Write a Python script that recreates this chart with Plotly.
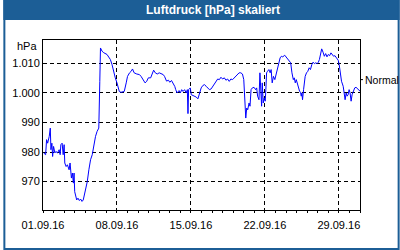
import pandas as pd
import plotly.graph_objects as go

# ---- data ----
start_date = "2016-09-01"
end_date = "2016-10-01"
# time offsets in days since 01.09.16
days = [0.06, 0.25, 0.34, 0.44, 0.59, 0.69, 0.75, 0.84, 0.91, 1.00, 1.125, 1.22, 1.375, 1.53, 1.625,
        1.69, 1.81, 1.91, 2.00, 2.06, 2.19, 2.31, 2.47, 2.56, 2.69, 2.78, 2.875, 2.94, 3.00, 3.09,
        3.19, 3.31, 3.44, 3.56, 3.69, 3.81, 3.94, 4.06, 4.19, 4.34, 4.50, 4.66, 4.81, 4.97, 5.12,
        5.28, 5.375, 5.44, 5.59, 5.75, 6.06, 6.375, 6.53, 6.69, 6.84, 7.00, 7.09, 7.22, 7.375,
        7.625, 7.69, 7.875, 8.0, 8.19, 8.34, 8.47, 8.625, 8.875, 9.125, 9.28, 9.44, 9.66, 9.81,
        9.97, 10.19, 10.34, 10.47, 10.625, 10.81, 11.0, 11.19, 11.375, 11.5, 11.69, 11.875, 12.0,
        12.16, 12.31, 12.47, 12.56, 12.69, 12.875, 13.0, 13.125, 13.25, 13.4, 13.56, 13.66, 13.72,
        13.78, 13.94, 14.03, 14.19, 14.34, 14.5, 14.66, 14.81, 14.97,
        15.125, 15.28, 15.44, 15.59, 15.75, 15.91, 16.06, 16.22, 16.375, 16.53, 16.69, 16.84, 17.0,
        17.16, 17.31, 17.47, 17.625, 17.78, 17.94, 18.09, 18.25, 18.41, 18.56, 18.72, 18.875, 19.0,
        19.09, 19.19, 19.28, 19.375, 19.5, 19.59, 19.69, 19.81, 19.97, 20.125, 20.22, 20.31, 20.44,
        20.53, 20.625, 20.69, 20.75, 20.84, 20.94, 21.03, 21.09, 21.16, 21.25, 21.375, 21.5, 21.59,
        21.69, 21.81, 21.94, 22.06, 22.19, 22.31, 22.44,
        22.56, 22.69, 22.875, 23.0, 23.16, 23.31, 23.44, 23.56, 23.69, 23.78, 23.875, 23.97, 24.06,
        24.19, 24.28, 24.375, 24.44, 24.5, 24.56, 24.66, 24.72, 24.81, 24.94, 25.06, 25.19, 25.31,
        25.44, 25.56, 25.69, 25.81, 25.94, 26.06, 26.16, 26.28, 26.375, 26.5, 26.625, 26.75, 26.875,
        27.0, 27.125, 27.25, 27.375, 27.5, 27.625, 27.78, 27.94, 28.03, 28.09, 28.19, 28.25, 28.41,
        28.5, 28.59, 28.69, 28.78, 28.875, 28.97, 29.06, 29.16, 29.25, 29.375, 29.5, 29.625, 29.75,
        29.875, 30.0]
pressure = [979.7, 979.1, 984.2, 983.0, 985.3, 988.1, 980.8, 983.0, 978.5, 981.9, 979.7, 980.2, 979.7,
            980.8, 979.1, 982.5, 983.0, 979.1, 982.5, 976.3, 975.1, 975.7, 974.0, 976.3, 971.2, 972.9,
            969.5, 972.9, 966.6, 965.0, 963.8, 964.4, 963.6, 964.1, 963.3, 963.8, 966.1, 968.3, 970.0,
            974.0, 977.4, 979.1, 983.0, 985.3, 987.0, 988.1, 1003.9, 1015.2, 1014.1, 1013.6, 1013.0,
            1011.3, 1009.6, 1006.8, 1005.1, 1003.4, 1001.7, 1000.5, 1000.2,
            1000.3, 1000.5, 1003.4, 1005.6, 1006.8, 1007.3, 1008.1, 1006.8, 1006.4, 1006.2, 1005.6,
            1004.5, 1003.4, 1003.9, 1005.1, 1005.1, 1006.8, 1007.7, 1006.8, 1006.4, 1006.8, 1006.4,
            1006.2, 1005.6, 1004.0, 1004.3, 1003.6, 1004.2, 1003.4, 1002.2, 1001.1, 1000.0, 1000.8,
            1000.0, 1001.1, 1000.5, 1001.1, 1000.0, 1001.1, 993.0, 1001.1, 1001.7, 999.4, 999.1,
            998.9, 998.6, 998.0, 1000.0, 1001.7,
            1002.5, 1002.8, 1002.25, 1001.7, 1001.1, 1001.35, 1002.25, 1002.8, 1003.9, 1004.7, 1004.5,
            1005.3, 1004.7, 1005.1, 1004.3, 1004.7, 1003.9, 1004.7, 1004.5, 1005.1, 1005.6, 1006.5,
            1006.8, 1006.8, 1006.4, 1004.5, 998.3, 991.5, 994.9, 994.3, 996.6, 995.5, 1001.1, 1001.7,
            1001.9, 1001.1, 1001.7, 998.9, 997.7, 1006.8, 1000.0, 995.5, 1003.4, 996.6, 998.3, 997.2,
            1001.1, 1006.8, 1007.3, 1007.9, 1006.8, 1007.9, 1003.4, 1005.6, 1004.5, 1006.2, 1007.3,
            1009.0, 1011.85,
            1012.4, 1012.2, 1012.75, 1012.2, 1011.5, 1011.05, 1010.2, 1006.8, 1004.5, 1005.1, 1003.4,
            1004.5, 1003.2, 1001.7, 1000.6, 1000.2, 998.9, 1000.0, 997.7, 1001.1, 1003.95, 1005.6,
            1006.8, 1007.3, 1008.5, 1007.9, 1009.6, 1010.4, 1009.9, 1010.2, 1009.9, 1010.4, 1011.3,
            1013.0, 1014.9, 1013.8, 1012.4, 1013.3, 1012.2, 1013.0, 1012.6, 1013.55, 1013.0, 1012.4,
            1012.6, 1011.85, 1011.05, 1009.6, 1007.9, 1006.8, 1003.95, 1002.25, 1000.0, 997.7, 1000.0,
            998.9, 999.4, 1001.1, 1000.0, 997.2, 999.4, 1000.6, 1001.7, 1001.9, 1001.35, 1001.1,
            1000.6]
y_tick_values = [970, 980, 990, 1000, 1010]
y_tick_labels = ["970", "980", "990", "1.000", "1.010"]
normal_value = 1004.5
normal_label = "Normal"
unit_label = "hPa"
title_text = "Luftdruck [hPa] skaliert"
y_range = [960.4, 1017.9]

times = pd.Timestamp(start_date) + pd.to_timedelta(days, unit="D")

BLUE = "#1c5e96"
FONT = "Liberation Sans"
W, H = 400, 250
ML, MR, MT, MB = 40, 40, 40, 40
PW, PH = W - ML - MR, H - MT - MB


def px(xp):
    return (xp - ML) / PW


def py(yp):
    return (H - MB - yp) / PH


fig = go.Figure()
fig.add_trace(go.Scatter(x=times, y=pressure, mode="lines",
                         line=dict(color="#0000ff", width=1), hoverinfo="skip"))

fig.update_layout(
    width=W, height=H, autosize=False,
    margin=dict(l=ML, r=MR, t=MT, b=MB, pad=0),
    paper_bgcolor="white", plot_bgcolor="white",
    showlegend=False,
    font=dict(family=FONT, size=11, color="black"),
    xaxis=dict(
        type="date", range=[start_date, end_date],
        tick0=start_date, dtick=7 * 86400000, tickformat="%d.%m.%y",
        showgrid=True, gridcolor="black", gridwidth=1, griddash="4px,3px",
        showline=True, linecolor="black", linewidth=1, mirror=True,
        ticks="outside", ticklen=2, tickcolor="black", ticklabelstandoff=3,
        minor=dict(dtick=86400000, tick0=start_date, ticks="outside", ticklen=2,
                   tickcolor="black", showgrid=False),
        zeroline=False, fixedrange=True,
    ),
    yaxis=dict(
        range=y_range, tickmode="array", tickvals=y_tick_values, ticktext=y_tick_labels,
        showgrid=True, gridcolor="black", gridwidth=1, griddash="4px,3px",
        showline=True, linecolor="black", linewidth=1, mirror=True,
        ticks="", zeroline=False, fixedrange=True,
    ),
    shapes=[
        # title bar
        dict(type="rect", xref="paper", yref="paper", x0=px(0), x1=px(W), y0=py(20), y1=py(0),
             fillcolor=BLUE, line=dict(width=0), layer="above"),
        # outer frame
        dict(type="rect", xref="paper", yref="paper", x0=px(1), x1=px(W - 1), y0=py(H - 1), y1=py(0),
             fillcolor="rgba(0,0,0,0)", line=dict(color=BLUE, width=2), layer="above"),
        # "Normal" tick
        dict(type="line", xref="paper", yref="y", x0=1, x1=px(ML + PW + 3), y0=normal_value, y1=normal_value,
             line=dict(color="black", width=1)),
    ],
    annotations=[
        dict(text="<b>" + title_text + "</b>", xref="paper", yref="paper", x=px(W / 2 + 12), y=py(10),
             xanchor="center", yanchor="middle", showarrow=False,
             font=dict(family=FONT, size=12, color="white")),
        dict(text=unit_label, xref="paper", yref="paper", x=px(ML - 4), y=py(46),
             xanchor="right", yanchor="middle", showarrow=False),
        dict(text=normal_label, xref="paper", yref="y", x=px(ML + PW + 3), y=normal_value,
             xanchor="left", yanchor="middle", showarrow=False,
             font=dict(family=FONT, size=10.5, color="black")),
    ],
)

fig.write_html("out.html", config={"displayModeBar": False})
